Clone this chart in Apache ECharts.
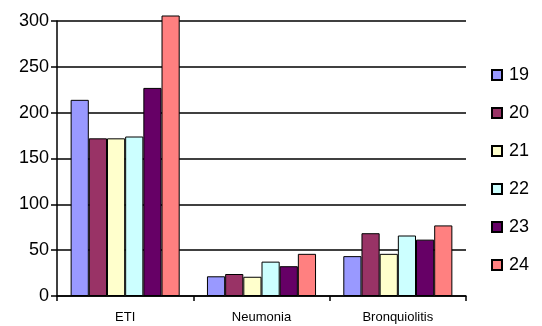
<!DOCTYPE html>
<html>
<head>
<meta charset="utf-8">
<script src="https://cdn.jsdelivr.net/npm/echarts@6/dist/echarts.min.js"></script>
<style>
  html, body { margin: 0; padding: 0; background: #fff; }
  #chart { width: 542px; height: 326px; }
</style>
</head>
<body>
<div id="chart"></div>
<script>
// Categories along the x axis
const categories = ['ETI', 'Neumonia', 'Bronquiolitis'];

// One series per year label
const seriesNames = ['19', '20', '21', '22', '23', '24'];
const values19 = [214, 21.5, 43.5];
const values20 = [172, 24, 68.5];
const values21 = [172, 21, 46];
const values22 = [174, 37.5, 66];
const values23 = [227, 32.5, 61.5];
const values24 = [306, 46, 77];

// Y axis ticks
const yTicks = [0, 50, 100, 150, 200, 250, 300];

const seriesValues = [values19, values20, values21, values22, values23, values24];
const colors = ['#9999FF', '#993366', '#FFFFCC', '#CCFFFF', '#660066', '#FF8080'];
const font = 'Liberation Sans, Arial, sans-serif';

const chart = echarts.init(document.getElementById('chart'), null, { renderer: 'canvas' });

chart.setOption({
  animation: false,
  backgroundColor: '#ffffff',
  grid: { left: 57, right: 76, top: 21, bottom: 30, containLabel: false },
  legend: {
    orient: 'vertical',
    left: 486,
    top: 61,
    itemWidth: 10,
    itemHeight: 10,
    itemGap: 20,
    icon: 'rect',
    textStyle: { fontFamily: font, fontSize: 18, color: '#000', lineHeight: 18, padding: [0, 0, 0, 2] },
    data: seriesNames
  },
  xAxis: {
    type: 'category',
    data: categories,
    axisLine: { lineStyle: { color: '#000', width: 1.5 } },
    axisTick: { show: true, alignWithLabel: false, length: 5, lineStyle: { color: '#000', width: 1.5 } },
    axisLabel: { fontFamily: font, fontSize: 13, color: '#000', margin: 15 },
    splitLine: { show: false }
  },
  yAxis: {
    type: 'value',
    min: yTicks[0],
    max: yTicks[yTicks.length - 1],
    interval: yTicks[1] - yTicks[0],
    axisLine: { show: true, lineStyle: { color: '#000', width: 1.5 } },
    axisTick: { show: true, length: 6, lineStyle: { color: '#000', width: 1.5 } },
    axisLabel: { fontFamily: font, fontSize: 18, color: '#000', margin: 8 },
    splitLine: { show: true, lineStyle: { color: '#000', width: 1.5 } }
  },
  series: seriesNames.map((name, i) => ({
    name: name,
    type: 'bar',
    data: seriesValues[i],
    clip: false,
    barGap: '0%',
    barCategoryGap: '20%',
    itemStyle: { color: colors[i], borderColor: '#000', borderWidth: 1 }
  }))
});
</script>
</body>
</html>
